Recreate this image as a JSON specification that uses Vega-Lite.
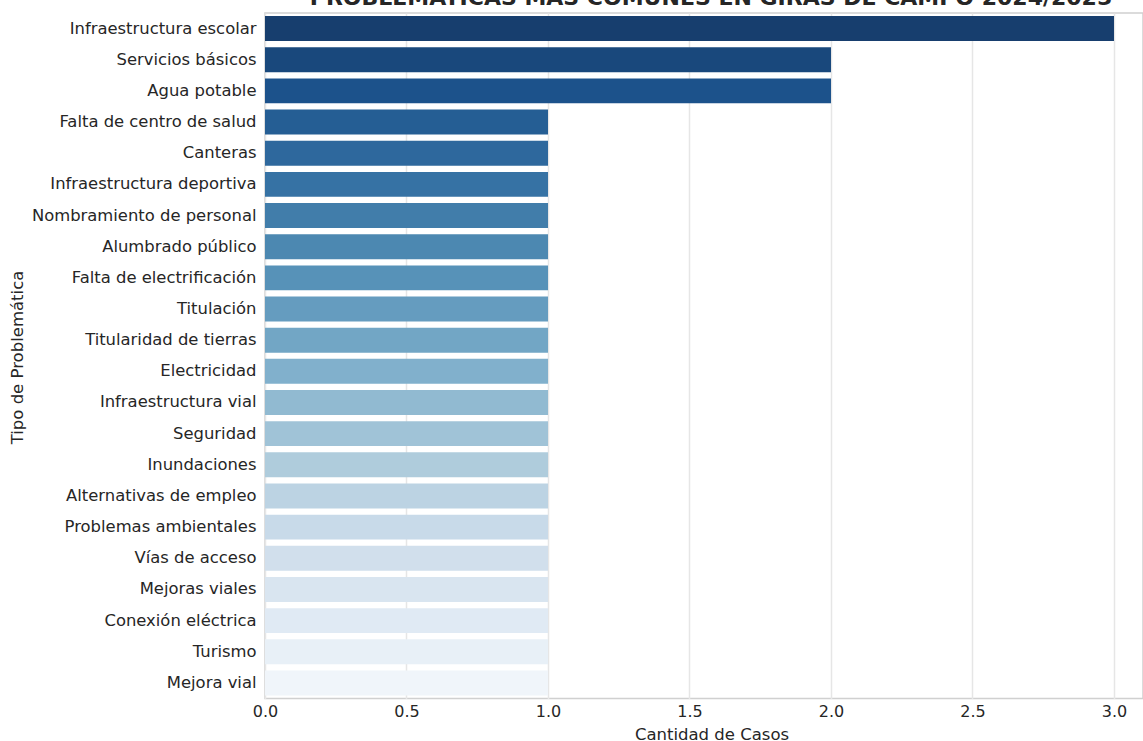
{
  "$schema": "https://vega.github.io/schema/vega-lite/v6.json",
  "width": 878,
  "height": 685.5,
  "autosize": {"type": "none"},
  "padding": {"left": 265, "top": 13, "right": 0, "bottom": 42.5},
  "background": "white",
  "title": {
    "text": "PROBLEMÁTICAS MÁS COMUNES EN GIRAS DE CAMPO 2024/2025",
    "font": "DejaVu Sans",
    "fontSize": 22,
    "fontWeight": "bold",
    "color": "#262626",
    "anchor": "middle",
    "baseline": "alphabetic",
    "offset": 0,
    "dy": 14,
    "dx": 7
  },
  "config": {
    "view": {"stroke": "#d0d0d0", "strokeWidth": 1.5},
    "font": "DejaVu Sans"
  },
  "data": {
    "values": [
      {"problema": "Infraestructura escolar", "casos": 3},
      {"problema": "Servicios básicos", "casos": 2},
      {"problema": "Agua potable", "casos": 2},
      {"problema": "Falta de centro de salud", "casos": 1},
      {"problema": "Canteras", "casos": 1},
      {"problema": "Infraestructura deportiva", "casos": 1},
      {"problema": "Nombramiento de personal", "casos": 1},
      {"problema": "Alumbrado público", "casos": 1},
      {"problema": "Falta de electrificación", "casos": 1},
      {"problema": "Titulación", "casos": 1},
      {"problema": "Titularidad de tierras", "casos": 1},
      {"problema": "Electricidad", "casos": 1},
      {"problema": "Infraestructura vial", "casos": 1},
      {"problema": "Seguridad", "casos": 1},
      {"problema": "Inundaciones", "casos": 1},
      {"problema": "Alternativas de empleo", "casos": 1},
      {"problema": "Problemas ambientales", "casos": 1},
      {"problema": "Vías de acceso", "casos": 1},
      {"problema": "Mejoras viales", "casos": 1},
      {"problema": "Conexión eléctrica", "casos": 1},
      {"problema": "Turismo", "casos": 1},
      {"problema": "Mejora vial", "casos": 1}
    ]
  },
  "mark": {"type": "bar"},
  "encoding": {
    "y": {
      "field": "problema",
      "type": "nominal",
      "sort": null,
      "scale": {"paddingInner": 0.2, "paddingOuter": 0.1},
      "axis": {
        "title": "Tipo de Problemática",
        "titleFont": "DejaVu Sans",
        "titleFontSize": 16.5,
        "titleFontWeight": "normal",
        "titleColor": "#262626",
        "titleX": -248,
        "titleY": 344,
        "titleAngle": -90,
        "titleAlign": "center",
        "titleBaseline": "middle",
        "labelFont": "DejaVu Sans",
        "labelFontSize": 16.4,
        "labelColor": "#262626",
        "labelPadding": 9,
        "ticks": false,
        "domain": false,
        "grid": false,
        "labelLimit": 400
      }
    },
    "x": {
      "field": "casos",
      "type": "quantitative",
      "scale": {"domain": [0, 3.1025], "nice": false, "zero": true},
      "axis": {
        "title": "Cantidad de Casos",
        "titleFont": "DejaVu Sans",
        "titleFontSize": 16.5,
        "titleFontWeight": "normal",
        "titleColor": "#262626",
        "titleX": 446.5,
        "titleY": 40.5,
        "titleAlign": "center",
        "titleBaseline": "alphabetic",
        "values": [0, 0.5, 1, 1.5, 2, 2.5, 3],
        "format": ".1f",
        "labelFont": "DejaVu Sans",
        "labelFontSize": 16,
        "labelColor": "#262626",
        "labelPadding": 5,
        "labelFlush": false,
        "ticks": false,
        "domain": false,
        "grid": true,
        "gridColor": "#e6e6e6",
        "gridWidth": 1.5
      }
    },
    "color": {
      "field": "problema",
      "type": "nominal",
      "legend": null,
      "sort": null,
      "scale": {
        "domain": ["Infraestructura escolar", "Servicios básicos", "Agua potable", "Falta de centro de salud", "Canteras", "Infraestructura deportiva", "Nombramiento de personal", "Alumbrado público", "Falta de electrificación", "Titulación", "Titularidad de tierras", "Electricidad", "Infraestructura vial", "Seguridad", "Inundaciones", "Alternativas de empleo", "Problemas ambientales", "Vías de acceso", "Mejoras viales", "Conexión eléctrica", "Turismo", "Mejora vial"],
        "range": ["#173e6e", "#19487c", "#1c528b", "#255e94", "#2e689d", "#3672a4", "#417daa", "#4c88b1", "#5792b8", "#659cbf", "#72a6c5", "#81b0cc", "#91bad1", "#a0c3d7", "#afccdc", "#bcd3e3", "#c8dae9", "#d1dfec", "#d9e5f0", "#e0eaf4", "#e8f0f7", "#f0f5fa"]
      }
    }
  }
}
